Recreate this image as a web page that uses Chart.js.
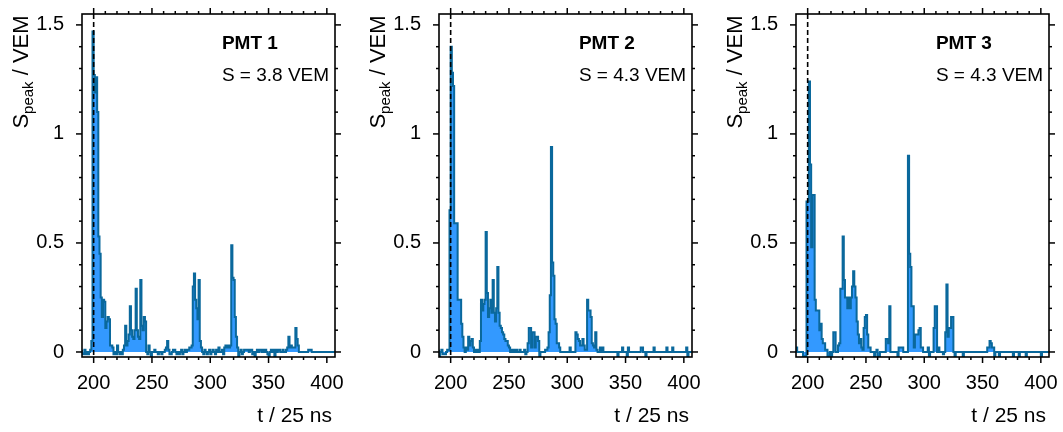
<!DOCTYPE html>
<html>
<head>
<meta charset="utf-8">
<script src="https://cdn.jsdelivr.net/npm/chart.js@4.4.0/dist/chart.umd.min.js"></script>
<style>
  html, body { margin: 0; padding: 0; background: #fff; overflow: hidden; }
  #wrap { position: relative; width: 1063px; height: 432px; }
  canvas { position: absolute; top: 0; }
</style>
</head>
<body>
<div id="wrap">
  <canvas id="c1" width="349" height="432" style="left:0px"></canvas>
  <canvas id="c2" width="349" height="432" style="left:357px"></canvas>
  <canvas id="c3" width="349" height="432" style="left:714px"></canvas>
</div>
<script>
// bins of 25 ns, first bin at t = 190
const tStart = 190;
const triggerBin = 200;
const xTicks = [200, 250, 300, 350, 400];
const yTicks = [0, 0.5, 1, 1.5];
const pmtNames = ["PMT 1", "PMT 2", "PMT 3"];
const pmtSignals = ["S = 3.8 VEM", "S = 4.3 VEM", "S = 4.3 VEM"];

// S_peak / VEM per bin, t = 190 ... 406
const pmt1 = [
  0.01, -0.01, -0.01, 0.01, -0.01, 0.0, -0.01, 0.0, 0.01, 0.05,
  1.47, 1.27, 1.19, 1.26, 1.10, 0.53, 0.45, 0.25, 0.16, 0.24,
  0.23, 0.11, 0.14, 0.16, 0.15, 0.03, 0.03, 0.02, -0.01, 0.0,
  -0.01, 0.03, 0.0, -0.01, 0.0, -0.01, 0.01, 0.03, 0.12, 0.03,
  0.05, 0.08, 0.21, 0.10, 0.07, 0.06, 0.10, 0.29, 0.10, 0.07,
  0.06, 0.33, 0.12, 0.10, 0.16, 0.14, 0.0, -0.01, 0.03, 0.0,
  -0.03, 0.0, 0.0, 0.01, 0.0, 0.0, -0.01, 0.0, 0.0, -0.01,
  0.0, 0.0, 0.01, 0.02, 0.05, 0.01, -0.01, -0.01, 0.0, 0.01,
  0.01, 0.0, -0.01, 0.0, -0.01, 0.0, 0.01, -0.01, 0.0, 0.01,
  0.0, 0.01, 0.01, 0.02, 0.02, 0.03, 0.30, 0.36, 0.24, 0.20,
  0.15, 0.33, 0.05, 0.02, 0.0, -0.01, 0.01, 0.0, -0.01, 0.0,
  0.01, -0.01, 0.0, 0.01, 0.0, -0.01, 0.01, 0.0, 0.02, 0.0,
  0.0, 0.01, -0.01, 0.02, 0.03, 0.02, 0.03, 0.02, 0.03, 0.49,
  0.34, 0.33, 0.16, 0.07, 0.02, -0.02, 0.0, 0.01, -0.01, 0.0,
  0.01, 0.01, 0.01, 0.01, 0.0, 0.01, 0.01, -0.01, 0.0, -0.02,
  0.0, 0.01, 0.0, 0.01, 0.01, 0.0, 0.01, 0.0, 0.01, 0.0,
  -0.01, -0.02, 0.0, 0.01, 0.0, 0.01, -0.02, 0.01, 0.0, 0.01,
  0.01, 0.0, 0.0, 0.01, 0.0, 0.0, 0.01, 0.02, 0.07, 0.02,
  0.03, 0.02, 0.02, 0.02, 0.11, 0.06, 0.03, 0.0, 0.0, 0.0,
  0.0, 0.0, 0.0, 0.0, 0.0, 0.01, 0.01, 0.01, 0.0, 0.0,
  0.0, 0.0, 0.0, 0.0, 0.0, 0.0, 0.0, 0.0, 0.0, 0.0,
  0.0, 0.0, 0.0, 0.0, 0.0, 0.0, 0.0
];
const pmt2 = [
  0.01, -0.02, 0.0, 0.01, -0.01, -0.01, -0.01, 0.0, 0.01, 0.01,
  0.65, 1.40, 1.28, 1.22, 0.59, 0.59, 0.59, 0.24, 0.24, 0.24,
  0.13, 0.07, 0.02, 0.0, 0.02, 0.01, 0.07, 0.03, 0.05, 0.06,
  0.02, 0.0, 0.01, 0.0, 0.01, 0.0, 0.05, 0.24, 0.19, 0.22,
  0.24, 0.55, 0.27, 0.16, 0.20, 0.24, 0.18, 0.33, 0.18, 0.14,
  0.20, 0.39, 0.18, 0.12, 0.11, 0.09, 0.08, 0.06, 0.05, 0.05,
  0.03, 0.02, 0.0, 0.01, 0.0, 0.01, 0.0, 0.01, 0.0, 0.0,
  0.01, 0.0, 0.0, 0.0, 0.01, -0.01, 0.0, 0.04, 0.11, 0.11,
  0.02, 0.09, 0.09, 0.02, 0.07, 0.07, 0.05, -0.02, 0.0, 0.0,
  0.0, 0.0, 0.01, 0.01, 0.02, 0.09, 0.26, 0.94, 0.41, 0.35,
  0.15, 0.13, 0.04, 0.04, 0.02, 0.0, 0.0, 0.0, 0.0, 0.0,
  0.0, 0.0, 0.0, 0.02, 0.0, 0.0, 0.0, 0.0, 0.09, 0.08,
  0.06, 0.05, 0.03, 0.03, 0.06, 0.03, 0.01, 0.01, 0.24, 0.19,
  0.19, 0.16, 0.04, 0.03, 0.02, 0.09, 0.01, 0.0, 0.0, 0.02,
  0.0, 0.02, 0.0, 0.0, 0.0, 0.0, 0.0, 0.0, 0.0, 0.0,
  0.0, 0.0, 0.0, 0.0, -0.02, 0.0, 0.0, 0.0, 0.02, 0.0,
  0.0, 0.0, -0.02, 0.02, 0.0, 0.0, 0.0, 0.0, 0.0, 0.0,
  0.0, 0.0, 0.0, 0.0, 0.02, 0.02, 0.0, 0.0, -0.02, 0.0,
  0.0, 0.0, 0.0, 0.0, 0.0, 0.02, 0.0, 0.0, 0.0, 0.0,
  0.0, 0.0, 0.0, 0.0, 0.0, 0.0, 0.02, 0.0, 0.0, 0.0,
  0.0, 0.02, 0.0, 0.0, 0.0, 0.0, 0.0, 0.0, 0.0, 0.0,
  0.0, 0.0, 0.0, 0.02, -0.02, 0.0, 0.0
];
const pmt3 = [
  0.02, 0.02, 0.0, 0.0, 0.0, 0.0, 0.0, -0.02, -0.02, -0.02,
  0.69, 0.69, 1.24, 0.86, 0.48, 0.72, 0.72, 0.24, 0.19, 0.19,
  0.19, 0.10, 0.13, 0.06, 0.04, 0.04, 0.01, 0.01, -0.02, -0.02,
  0.0, -0.02, 0.0, 0.09, 0.09, 0.0, 0.0, 0.03, 0.04, 0.29,
  0.29, 0.53, 0.33, 0.25, 0.25, 0.20, 0.25, 0.20, 0.25, 0.30,
  0.37, 0.30, 0.25, 0.14, 0.08, 0.04, 0.06, 0.02, 0.01, 0.11,
  0.16, 0.17, 0.08, 0.02, 0.02, 0.0, 0.0, 0.0, -0.02, 0.0,
  0.01, -0.02, -0.02, 0.0, 0.0, 0.0, 0.0, 0.0, 0.06, 0.06,
  0.04, 0.21, 0.0, 0.0, 0.0, 0.0, 0.0, 0.0, -0.02, 0.02,
  0.02, 0.02, 0.02, 0.0, 0.0, 0.0, 0.0, 0.90, 0.45, 0.39,
  0.21, 0.21, 0.02, 0.08, 0.08, 0.08, 0.10, 0.11, 0.02, 0.02,
  0.0, 0.0, 0.0, 0.0, 0.02, -0.02, 0.0, 0.0, 0.0, 0.11,
  0.21, 0.21, 0.0, 0.02, 0.0, 0.0, 0.0, -0.01, 0.0, 0.09,
  0.31, 0.07, 0.11, 0.11, 0.16, 0.16, 0.0, -0.02, 0.0, 0.0,
  0.0, 0.0, 0.0, 0.0, -0.02, 0.0, 0.0, 0.0, 0.0, 0.0,
  0.0, 0.0, 0.0, 0.0, 0.0, 0.0, 0.0, 0.0, 0.0, 0.0,
  0.0, 0.0, 0.0, 0.0, 0.0, 0.02, 0.02, 0.05, 0.04, 0.02,
  0.02, -0.02, 0.0, 0.0, 0.0, -0.02, 0.0, 0.0, 0.0, 0.0,
  0.0, 0.0, 0.0, 0.0, 0.0, 0.0, 0.0, -0.02, 0.0, 0.0,
  0.0, 0.0, -0.02, 0.0, 0.0, 0.0, 0.0, 0.0, -0.02, 0.0,
  0.0, 0.0, 0.0, 0.0, 0.0, 0.0, 0.0, 0.0, 0.0, 0.0,
  0.0, -0.02, 0.0, 0.0, 0.0, 0.0, 0.0
];

const FONT = '"Liberation Sans", Arial, Helvetica, sans-serif';
const FILL = "#3399ff";
const LINE = "#0a689c";

function toSteps(values) {
  const pts = values.map((v, i) => ({ x: tStart + i, y: v }));
  pts.push({ x: tStart + values.length, y: values[values.length - 1] });
  return pts;
}

// frame, ticks on all four sides, trigger line and texts
const decor = {
  id: "decor",
  afterDraw(chart, args, opts) {
    const { ctx, chartArea: a, scales: { x, y } } = chart;
    ctx.save();
    ctx.strokeStyle = "#000";

    // trigger line
    ctx.lineWidth = 1.6;
    ctx.setLineDash([5, 3]);
    const xt = x.getPixelForValue(triggerBin);
    ctx.beginPath();
    ctx.moveTo(xt, a.top);
    ctx.lineTo(xt, a.bottom);
    ctx.stroke();
    ctx.setLineDash([]);

    // frame
    ctx.lineWidth = 1.6;
    ctx.strokeRect(a.left, a.top, a.right - a.left, a.bottom - a.top);

    const line = (x1, y1, x2, y2) => {
      ctx.beginPath();
      ctx.moveTo(x1, y1);
      ctx.lineTo(x2, y2);
      ctx.stroke();
    };
    ctx.lineWidth = 1.5;
    for (let v = x.min; v <= x.max; v += 10) {
      if (v <= x.min) continue;
      const px = x.getPixelForValue(v);
      const len = xTicks.includes(v) ? 6 : 3;
      line(px, a.bottom, px, a.bottom + len);
      line(px, a.top, px, a.top - len);
    }
    for (let k = 0; k <= 15; k++) {
      const py = y.getPixelForValue(k / 10);
      const len = k % 5 === 0 ? 6 : 3;
      line(a.left, py, a.left - len, py);
      line(a.right, py, a.right + len, py);
    }

    // labels in the panel
    ctx.fillStyle = "#000";
    ctx.textAlign = "left";
    ctx.textBaseline = "alphabetic";
    ctx.font = "bold 19px " + FONT;
    ctx.fillText(opts.name, x.getPixelForValue(310), y.getPixelForValue(1.39));
    ctx.font = "19px " + FONT;
    ctx.fillText(opts.signal, x.getPixelForValue(310), y.getPixelForValue(1.245));

    // x title
    ctx.font = "21px " + FONT;
    ctx.textAlign = "right";
    ctx.fillText("t / 25 ns", a.right - 3, 422);

    // y title, S_peak / VEM
    ctx.textAlign = "left";
    const big = "22px " + FONT, small = "15px " + FONT;
    ctx.font = big;
    const wS = ctx.measureText("S").width;
    const wR = ctx.measureText(" / VEM").width;
    ctx.font = small;
    const wP = ctx.measureText("peak").width;
    const total = wS + wP + wR;
    ctx.translate(28, a.top + 58 + total / 2);
    ctx.rotate(-Math.PI / 2);
    ctx.font = big;
    ctx.fillText("S", 0, 0);
    ctx.font = small;
    ctx.fillText("peak", wS, 5);
    ctx.font = big;
    ctx.fillText(" / VEM", wS + wP, 0);
    ctx.restore();
  }
};

function makePanel(id, values, idx) {
  const ctx = document.getElementById(id).getContext("2d");
  return new Chart(ctx, {
    type: "line",
    data: {
      datasets: [{
        data: toSteps(values),
        stepped: "after",
        fill: "origin",
        backgroundColor: FILL,
        borderColor: LINE,
        borderWidth: 2,
        pointRadius: 0
      }]
    },
    options: {
      responsive: false,
      animation: false,
      devicePixelRatio: 1,
      layout: { padding: { top: 14, right: 14, left: 0, bottom: 0 } },
      plugins: {
        legend: { display: false },
        tooltip: { enabled: false },
        decor: { name: pmtNames[idx], signal: pmtSignals[idx] }
      },
      scales: {
        x: {
          type: "linear",
          min: 190,
          max: 407,
          afterBuildTicks: s => { s.ticks = xTicks.map(v => ({ value: v })); },
          afterFit: s => { s.height = 75; s.paddingLeft = 0; s.paddingRight = 0; },
          grid: { display: false },
          border: { display: false },
          ticks: {
            color: "#000",
            font: { family: FONT, size: 20 },
            padding: 6,
            maxRotation: 0,
            autoSkip: false,
            callback: v => String(v)
          }
        },
        y: {
          type: "linear",
          min: -0.023,
          max: 1.55,
          afterBuildTicks: s => { s.ticks = yTicks.map(v => ({ value: v })); },
          afterFit: s => { s.width = 82; s.paddingTop = 0; s.paddingBottom = 0; },
          grid: { display: false },
          border: { display: false },
          ticks: {
            color: "#000",
            font: { family: FONT, size: 20 },
            padding: 10,
            callback: v => String(v)
          }
        }
      }
    },
    plugins: [decor]
  });
}

makePanel("c1", pmt1, 0);
makePanel("c2", pmt2, 1);
makePanel("c3", pmt3, 2);
</script>
</body>
</html>
